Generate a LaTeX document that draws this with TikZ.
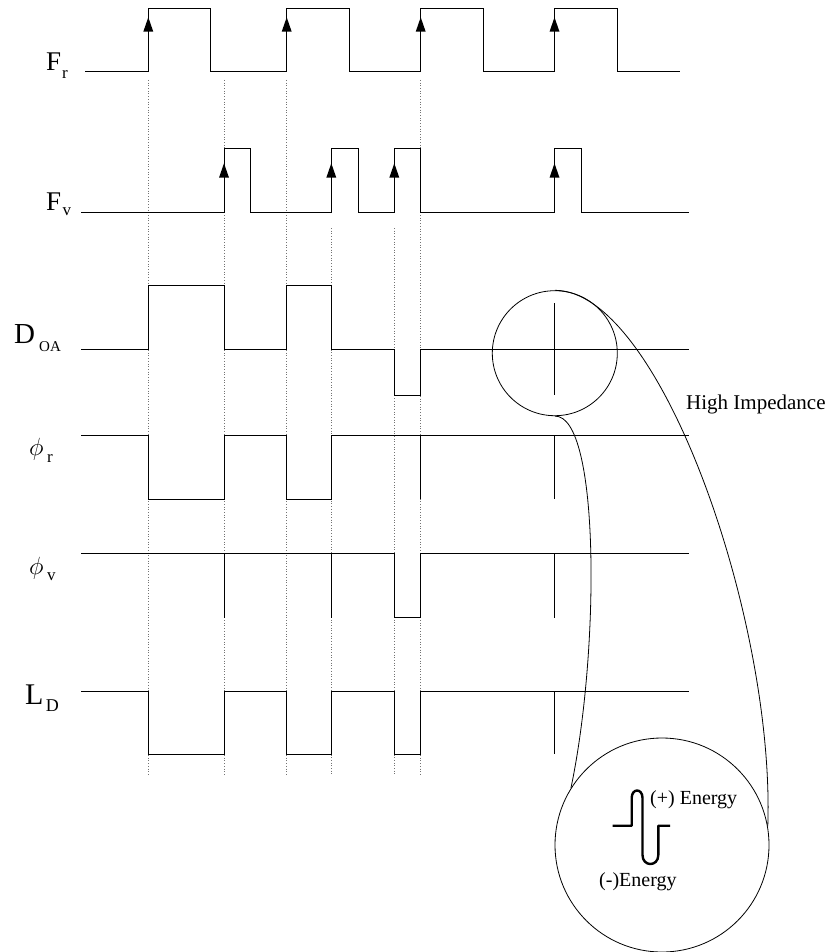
\documentclass[tikz,border=0pt]{standalone}
\usepackage{fontspec}
\setmainfont{Liberation Serif}
\begin{document}
\begin{tikzpicture}[x=1pt,y=-1pt,
  sig/.style={line width=0.9pt,line join=miter},
  guide/.style={black!55,dotted,line width=0.7pt},
  curve/.style={line width=0.8pt},
  lbl/.style={inner sep=0pt,anchor=base west},
  lens/.style={draw,circle,line width=0.8pt,inner sep=0pt}]
\useasboundingbox (0,0) rectangle (833,952);
\def\tA{148.3}\def\tB{224}\def\tC{286.7}\def\tD{331.3}\def\tE{394.3}\def\tF{420.7}\def\tG{554.5}
% guide lines
\foreach \x/\y in {\tA/80,\tB/80,\tC/80,\tD/228,\tE/228,\tF/80}
  \draw[guide] (\x,\y) -- (\x,776);
% labels
\node[lbl,font=\fontsize{27}{27}\selectfont] (Fr) at (46,71) {F};
\node[lbl,font=\fontsize{17}{17}\selectfont] (Frs) at (62,78.3) {r};
\node[lbl,font=\fontsize{27}{27}\selectfont] (Fv) at (46,210) {F};
\node[lbl,font=\fontsize{17}{17}\selectfont] (Fvs) at (62.5,215) {v};
\node[lbl,font=\fontsize{29}{29}\selectfont] (Doa) at (14,343.3) {D};
\node[lbl,font=\fontsize{15}{15}\selectfont] (Doas) at (39,351.7) {OA};
\node[lbl,font=\fontsize{30}{30}\selectfont] (phr) at (29,455.5) {$\phi$};
\node[lbl,font=\fontsize{17}{17}\selectfont] (phrs) at (47,462.7) {r};
\node[lbl,font=\fontsize{29}{29}\selectfont] (phv) at (29,574.5) {$\phi$};
\node[lbl,font=\fontsize{17}{17}\selectfont] (phvs) at (47,580) {v};
\node[lbl,font=\fontsize{30}{30}\selectfont] (Ld) at (25,704.3) {L};
\node[lbl,font=\fontsize{18}{18}\selectfont] (Lds) at (45.7,711.7) {D};
% F_r
\draw[sig] (85,71) -- (\tA,71) -- (\tA,8.3) -- (210.3,8.3) -- (210.3,71) -- (\tC,71) -- (\tC,8.3)
  -- (349.3,8.3) -- (349.3,71) -- (\tF,71) -- (\tF,8.3) -- (483.3,8.3) -- (483.3,71) -- (\tG,71)
  -- (\tG,8.3) -- (617.3,8.3) -- (617.3,71) -- (680,71);
\foreach \x in {\tA,\tC,\tF,\tG}
  \fill (\x,17.3) -- (\x-5,31.7) -- (\x+5,31.7) -- cycle;
% F_v
\draw[sig] (81,212) -- (\tB,212) -- (\tB,148.3) -- (250.7,148.3) -- (250.7,212) -- (\tD,212) -- (\tD,148.3)
  -- (358.3,148.3) -- (358.3,212) -- (\tE,212) -- (\tE,148.3) -- (\tF,148.3) -- (\tF,212) -- (\tG,212)
  -- (\tG,148.3) -- (581.3,148.3) -- (581.3,212) -- (688.7,212);
\foreach \x in {\tB,\tD,\tE,\tG}
  \fill (\x,163.3) -- (\x-5,177.7) -- (\x+5,177.7) -- cycle;
% D_OA
\draw[sig] (81,349) -- (\tA,349) -- (\tA,285) -- (\tB,285) -- (\tB,349) -- (\tC,349) -- (\tC,285)
  -- (\tD,285) -- (\tD,349) -- (\tE,349) -- (\tE,395) -- (\tF,395) -- (\tF,349) -- (688.7,349);
\draw[sig] (\tG,303.3) -- (\tG,395);
% phi_r
\draw[sig] (81,435.7) -- (\tA,435.7) -- (\tA,499.3) -- (\tB,499.3) -- (\tB,435.7) -- (\tC,435.7)
  -- (\tC,499.3) -- (\tD,499.3) -- (\tD,435.7) -- (688.7,435.7);
\draw[sig] (\tF,435.7) -- (\tF,499.3);
\draw[sig] (\tG,435.7) -- (\tG,499.3);
% phi_v
\draw[sig] (81,553.7) -- (\tE,553.7) -- (\tE,617.7) -- (\tF,617.7) -- (\tF,553.7) -- (688.7,553.7);
\draw[sig] (\tB,553.7) -- (\tB,617.7);
\draw[sig] (\tD,553.7) -- (\tD,617.7);
\draw[sig] (\tG,553.7) -- (\tG,617.7);
% L_D
\draw[sig] (81,691) -- (\tA,691) -- (\tA,754.3) -- (\tB,754.3) -- (\tB,691) -- (\tC,691) -- (\tC,754.3)
  -- (\tD,754.3) -- (\tD,691) -- (\tE,691) -- (\tE,754.3) -- (\tF,754.3) -- (\tF,691) -- (688.7,691);
\draw[sig] (\tG,691) -- (\tG,754.3);
% magnifier circles
\node[lens,minimum size=125pt] (small) at (554.8,353.2) {};
\node[lens,minimum size=214pt] (big) at (662,845) {};
\draw[curve] (small.north) .. controls (660,290) and (775,620) .. (big.10);
\draw[curve] (small.south) .. controls (600,415) and (600,650) .. (big.148);
\node[lbl,font=\fontsize{21}{21}\selectfont] (hi) at (686,409) {High Impedance};
% energy pulse
\draw[line width=2.4pt,line join=round] (612.7,825.7) -- (631.7,825.7) -- (631.7,798)
  .. controls (631.7,788) and (642.5,788) .. (642.5,798) -- (642.5,855)
  .. controls (642.5,867) and (658.3,867) .. (658.3,855) -- (658.3,825.7) -- (670,825.7);
\node[lbl,font=\fontsize{20}{20}\selectfont] (pos) at (650,804) {(+) Energy};
\node[lbl,font=\fontsize{20}{20}\selectfont] (neg) at (599,886.7) {(-)Energy};
\end{tikzpicture}
\end{document}
